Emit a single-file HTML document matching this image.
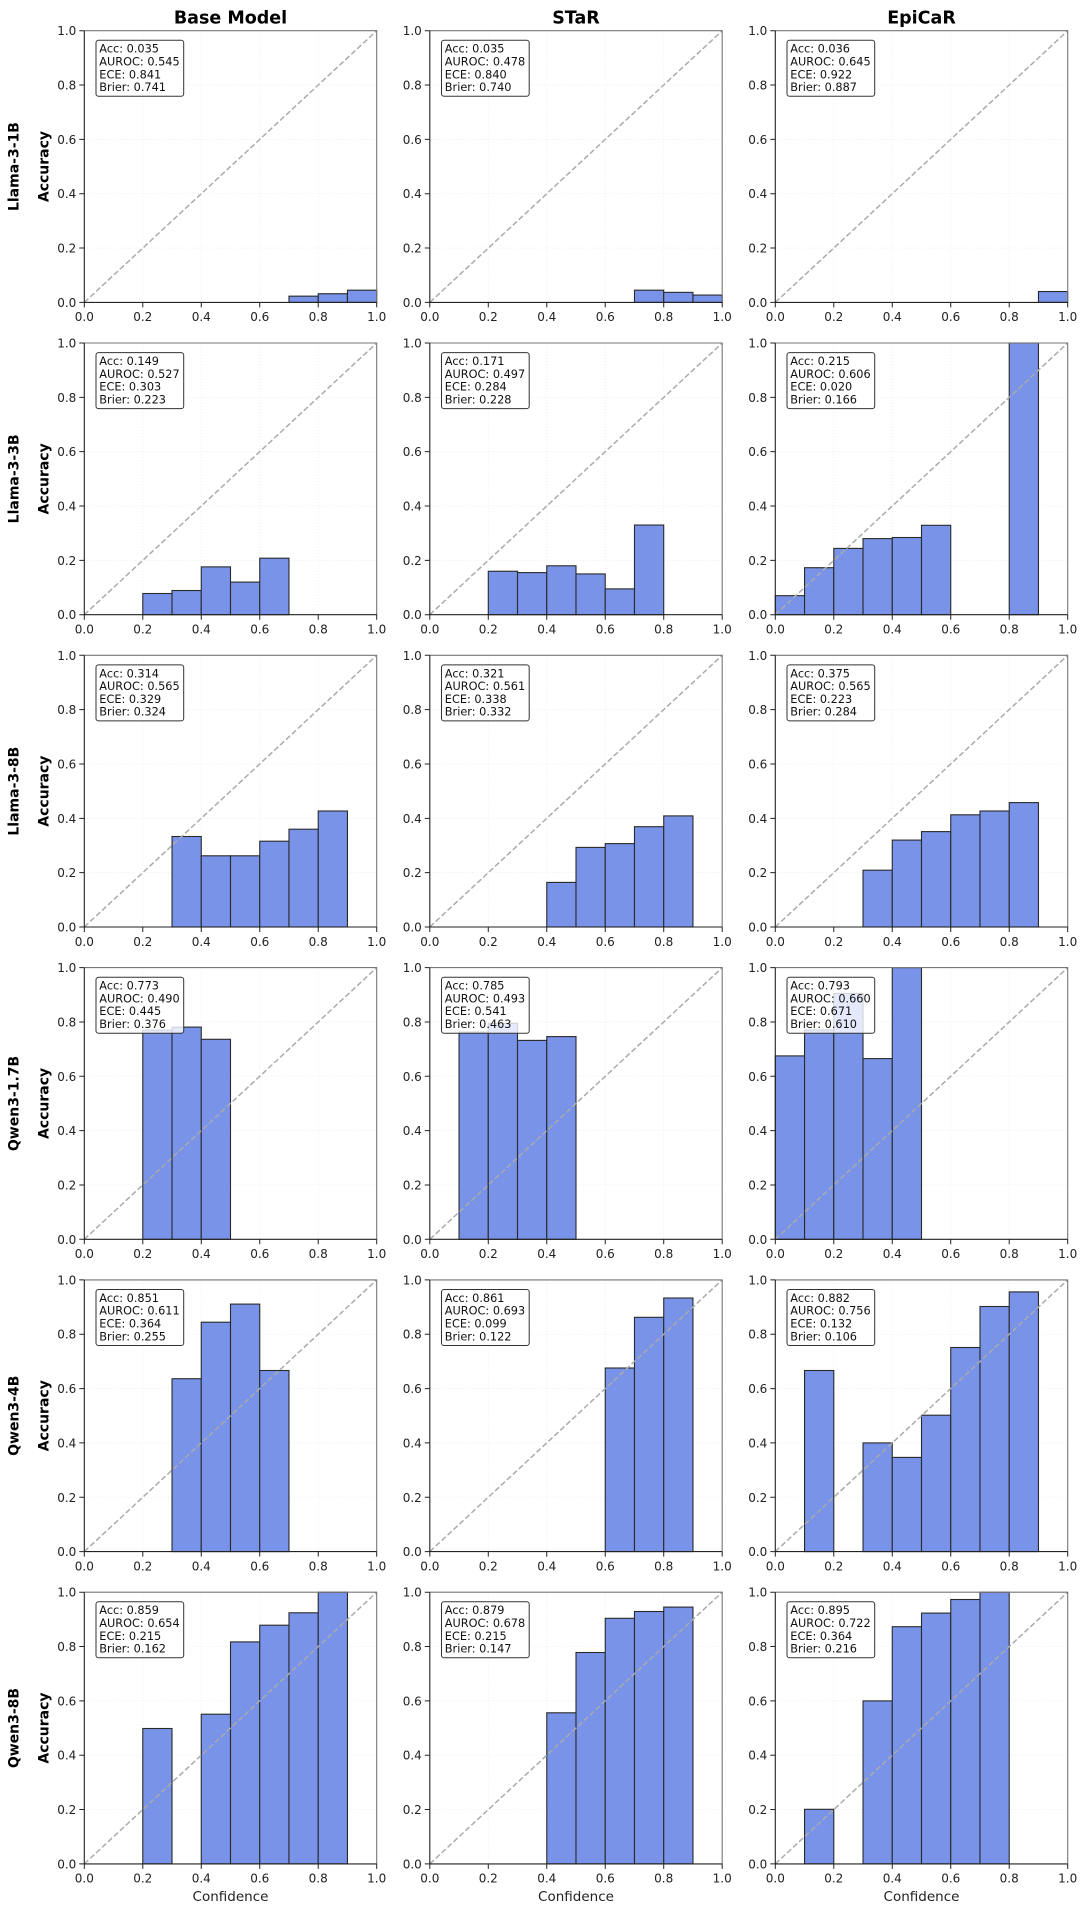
<!DOCTYPE html>
<html><head><meta charset="utf-8"><style>
html,body{margin:0;padding:0;background:#fff;}
svg{display:block;font-family:"DejaVu Sans","Liberation Sans",sans-serif;}
.b{fill:#7893e8;stroke:#2a2a2a;stroke-width:1.1;}
.box{fill:#fff;fill-opacity:0.8;stroke:#333;stroke-width:1;}
.st{font-size:11.3px;fill:#111;}
.yt text{font-size:12px;fill:#222;text-anchor:end;}
.xt text{font-size:12px;fill:#222;text-anchor:middle;}
.ttl{font-size:17.5px;font-weight:bold;text-anchor:middle;fill:#000;}
.lab{font-size:14px;font-weight:bold;text-anchor:middle;fill:#000;}
.xl{font-size:13.5px;text-anchor:middle;fill:#222;}
</style></head><body>
<svg width="1080" height="1905" viewBox="0 0 1080 1905" xmlns="http://www.w3.org/2000/svg">
<defs>
<g id="grid" stroke="#ebebeb" stroke-width="0.8" stroke-dasharray="1,2" fill="none">
<line x1="58.48" y1="0" x2="58.48" y2="271.7"/><line x1="116.96" y1="0" x2="116.96" y2="271.7"/><line x1="175.44" y1="0" x2="175.44" y2="271.7"/><line x1="233.92" y1="0" x2="233.92" y2="271.7"/>
<line x1="0" y1="54.34" x2="292.4" y2="54.34"/><line x1="0" y1="108.68" x2="292.4" y2="108.68"/><line x1="0" y1="163.02" x2="292.4" y2="163.02"/><line x1="0" y1="217.36" x2="292.4" y2="217.36"/>
</g>
<g id="frame" fill="none">
<line x1="0" y1="271.7" x2="292.4" y2="0" stroke="#ababab" stroke-width="1.5" stroke-dasharray="5.5,2.6"/>
<path d="M0,0 H292.4 V271.7" stroke="#777" stroke-width="1.1"/>
<path d="M0,0 V271.7 H292.4" stroke="#222" stroke-width="1.1"/>
<path d="M-5,0H0M-5,54.34H0M-5,108.68H0M-5,163.02H0M-5,217.36H0M-5,271.7H0M0,271.7V276.7M58.48,271.7V276.7M116.96,271.7V276.7M175.44,271.7V276.7M233.92,271.7V276.7M292.4,271.7V276.7" stroke="#222" stroke-width="1"/>
</g>
</defs>
<rect width="1080" height="1905" fill="#fff"/>

<text class="ttl" x="230.5" y="23.3">Base Model</text>
<text class="ttl" x="576" y="23.3">STaR</text>
<text class="ttl" x="921.5" y="23.3">EpiCaR</text>

<text class="lab" transform="translate(18.3,166.55) rotate(-90)">Llama-3-1B</text>
<text class="lab" transform="translate(48.3,166.55) rotate(-90)">Accuracy</text>
<text class="lab" transform="translate(18.3,478.85) rotate(-90)">Llama-3-3B</text>
<text class="lab" transform="translate(48.3,478.85) rotate(-90)">Accuracy</text>
<text class="lab" transform="translate(18.3,791.15) rotate(-90)">Llama-3-8B</text>
<text class="lab" transform="translate(48.3,791.15) rotate(-90)">Accuracy</text>
<text class="lab" transform="translate(18.3,1103.45) rotate(-90)">Qwen3-1.7B</text>
<text class="lab" transform="translate(48.3,1103.45) rotate(-90)">Accuracy</text>
<text class="lab" transform="translate(18.3,1415.75) rotate(-90)">Qwen3-4B</text>
<text class="lab" transform="translate(48.3,1415.75) rotate(-90)">Accuracy</text>
<text class="lab" transform="translate(18.3,1728.05) rotate(-90)">Qwen3-8B</text>
<text class="lab" transform="translate(48.3,1728.05) rotate(-90)">Accuracy</text>

<text class="xl" x="230.5" y="1901">Confidence</text>
<text class="xl" x="576" y="1901">Confidence</text>
<text class="xl" x="921.5" y="1901">Confidence</text>

<!-- ROW 1 -->
<g transform="translate(84.3,30.7)">
<use href="#grid"/>
<rect class="b" x="204.68" y="265.45" width="29.24" height="6.25"/><rect class="b" x="233.92" y="263.01" width="29.24" height="8.69"/><rect class="b" x="263.16" y="259.47" width="29.24" height="12.23"/>
<use href="#frame"/>
<rect class="box" x="11.7" y="9.6" width="87.7" height="56" rx="2.5"/>
<text class="st" y="22"><tspan x="15">Acc: 0.035</tspan><tspan x="15" dy="12.8">AUROC: 0.545</tspan><tspan x="15" dy="12.8">ECE: 0.841</tspan><tspan x="15" dy="12.8">Brier: 0.741</tspan></text>
<g class="yt"><text x="-8" y="4.5">1.0</text><text x="-8" y="58.84">0.8</text><text x="-8" y="113.18">0.6</text><text x="-8" y="167.52">0.4</text><text x="-8" y="221.86">0.2</text><text x="-8" y="276.2">0.0</text></g>
<g class="xt"><text x="0" y="290.5">0.0</text><text x="58.48" y="290.5">0.2</text><text x="116.96" y="290.5">0.4</text><text x="175.44" y="290.5">0.6</text><text x="233.92" y="290.5">0.8</text><text x="292.4" y="290.5">1.0</text></g>
</g>
<g transform="translate(429.8,30.7)">
<use href="#grid"/>
<rect class="b" x="204.68" y="259.47" width="29.24" height="12.23"/><rect class="b" x="233.92" y="261.65" width="29.24" height="10.05"/><rect class="b" x="263.16" y="264.36" width="29.24" height="7.34"/>
<use href="#frame"/>
<rect class="box" x="11.7" y="9.6" width="87.7" height="56" rx="2.5"/>
<text class="st" y="22"><tspan x="15">Acc: 0.035</tspan><tspan x="15" dy="12.8">AUROC: 0.478</tspan><tspan x="15" dy="12.8">ECE: 0.840</tspan><tspan x="15" dy="12.8">Brier: 0.740</tspan></text>
<g class="yt"><text x="-8" y="4.5">1.0</text><text x="-8" y="58.84">0.8</text><text x="-8" y="113.18">0.6</text><text x="-8" y="167.52">0.4</text><text x="-8" y="221.86">0.2</text><text x="-8" y="276.2">0.0</text></g>
<g class="xt"><text x="0" y="290.5">0.0</text><text x="58.48" y="290.5">0.2</text><text x="116.96" y="290.5">0.4</text><text x="175.44" y="290.5">0.6</text><text x="233.92" y="290.5">0.8</text><text x="292.4" y="290.5">1.0</text></g>
</g>
<g transform="translate(775.3,30.7)">
<use href="#grid"/>
<rect class="b" x="263.16" y="260.83" width="29.24" height="10.87"/>
<use href="#frame"/>
<rect class="box" x="11.7" y="9.6" width="87.7" height="56" rx="2.5"/>
<text class="st" y="22"><tspan x="15">Acc: 0.036</tspan><tspan x="15" dy="12.8">AUROC: 0.645</tspan><tspan x="15" dy="12.8">ECE: 0.922</tspan><tspan x="15" dy="12.8">Brier: 0.887</tspan></text>
<g class="yt"><text x="-8" y="4.5">1.0</text><text x="-8" y="58.84">0.8</text><text x="-8" y="113.18">0.6</text><text x="-8" y="167.52">0.4</text><text x="-8" y="221.86">0.2</text><text x="-8" y="276.2">0.0</text></g>
<g class="xt"><text x="0" y="290.5">0.0</text><text x="58.48" y="290.5">0.2</text><text x="116.96" y="290.5">0.4</text><text x="175.44" y="290.5">0.6</text><text x="233.92" y="290.5">0.8</text><text x="292.4" y="290.5">1.0</text></g>
</g>

<!-- ROW 2 -->
<g transform="translate(84.3,343)">
<use href="#grid"/>
<rect class="b" x="58.48" y="250.51" width="29.24" height="21.19"/><rect class="b" x="87.72" y="247.52" width="29.24" height="24.18"/><rect class="b" x="116.96" y="223.88" width="29.24" height="47.82"/><rect class="b" x="146.2" y="239.1" width="29.24" height="32.6"/><rect class="b" x="175.44" y="215.19" width="29.24" height="56.51"/>
<use href="#frame"/>
<rect class="box" x="11.7" y="9.6" width="87.7" height="56" rx="2.5"/>
<text class="st" y="22"><tspan x="15">Acc: 0.149</tspan><tspan x="15" dy="12.8">AUROC: 0.527</tspan><tspan x="15" dy="12.8">ECE: 0.303</tspan><tspan x="15" dy="12.8">Brier: 0.223</tspan></text>
<g class="yt"><text x="-8" y="4.5">1.0</text><text x="-8" y="58.84">0.8</text><text x="-8" y="113.18">0.6</text><text x="-8" y="167.52">0.4</text><text x="-8" y="221.86">0.2</text><text x="-8" y="276.2">0.0</text></g>
<g class="xt"><text x="0" y="290.5">0.0</text><text x="58.48" y="290.5">0.2</text><text x="116.96" y="290.5">0.4</text><text x="175.44" y="290.5">0.6</text><text x="233.92" y="290.5">0.8</text><text x="292.4" y="290.5">1.0</text></g>
</g>
<g transform="translate(429.8,343)">
<use href="#grid"/>
<rect class="b" x="58.48" y="228.23" width="29.24" height="43.47"/><rect class="b" x="87.72" y="229.59" width="29.24" height="42.11"/><rect class="b" x="116.96" y="222.79" width="29.24" height="48.91"/><rect class="b" x="146.2" y="230.94" width="29.24" height="40.76"/><rect class="b" x="175.44" y="245.89" width="29.24" height="25.81"/><rect class="b" x="204.68" y="182.04" width="29.24" height="89.66"/>
<use href="#frame"/>
<rect class="box" x="11.7" y="9.6" width="87.7" height="56" rx="2.5"/>
<text class="st" y="22"><tspan x="15">Acc: 0.171</tspan><tspan x="15" dy="12.8">AUROC: 0.497</tspan><tspan x="15" dy="12.8">ECE: 0.284</tspan><tspan x="15" dy="12.8">Brier: 0.228</tspan></text>
<g class="yt"><text x="-8" y="4.5">1.0</text><text x="-8" y="58.84">0.8</text><text x="-8" y="113.18">0.6</text><text x="-8" y="167.52">0.4</text><text x="-8" y="221.86">0.2</text><text x="-8" y="276.2">0.0</text></g>
<g class="xt"><text x="0" y="290.5">0.0</text><text x="58.48" y="290.5">0.2</text><text x="116.96" y="290.5">0.4</text><text x="175.44" y="290.5">0.6</text><text x="233.92" y="290.5">0.8</text><text x="292.4" y="290.5">1.0</text></g>
</g>
<g transform="translate(775.3,343)">
<use href="#grid"/>
<rect class="b" x="0" y="252.68" width="29.24" height="19.02"/><rect class="b" x="29.24" y="224.7" width="29.24" height="47"/><rect class="b" x="58.48" y="205.4" width="29.24" height="66.3"/><rect class="b" x="87.72" y="195.6" width="29.24" height="76.1"/><rect class="b" x="116.96" y="194.5" width="29.24" height="77.2"/><rect class="b" x="146.2" y="182.3" width="29.24" height="89.4"/><rect class="b" x="233.92" y="0" width="29.24" height="271.7"/>
<use href="#frame"/>
<rect class="box" x="11.7" y="9.6" width="87.7" height="56" rx="2.5"/>
<text class="st" y="22"><tspan x="15">Acc: 0.215</tspan><tspan x="15" dy="12.8">AUROC: 0.606</tspan><tspan x="15" dy="12.8">ECE: 0.020</tspan><tspan x="15" dy="12.8">Brier: 0.166</tspan></text>
<g class="yt"><text x="-8" y="4.5">1.0</text><text x="-8" y="58.84">0.8</text><text x="-8" y="113.18">0.6</text><text x="-8" y="167.52">0.4</text><text x="-8" y="221.86">0.2</text><text x="-8" y="276.2">0.0</text></g>
<g class="xt"><text x="0" y="290.5">0.0</text><text x="58.48" y="290.5">0.2</text><text x="116.96" y="290.5">0.4</text><text x="175.44" y="290.5">0.6</text><text x="233.92" y="290.5">0.8</text><text x="292.4" y="290.5">1.0</text></g>
</g>

<!-- ROW 3 -->
<g transform="translate(84.3,655.3)">
<use href="#grid"/>
<rect class="b" x="87.72" y="181.2" width="29.24" height="90.5"/><rect class="b" x="116.96" y="200.5" width="29.24" height="71.2"/><rect class="b" x="146.2" y="200.5" width="29.24" height="71.2"/><rect class="b" x="175.44" y="185.9" width="29.24" height="85.8"/><rect class="b" x="204.68" y="173.9" width="29.24" height="97.8"/><rect class="b" x="233.92" y="155.7" width="29.24" height="116"/>
<use href="#frame"/>
<rect class="box" x="11.7" y="9.6" width="87.7" height="56" rx="2.5"/>
<text class="st" y="22"><tspan x="15">Acc: 0.314</tspan><tspan x="15" dy="12.8">AUROC: 0.565</tspan><tspan x="15" dy="12.8">ECE: 0.329</tspan><tspan x="15" dy="12.8">Brier: 0.324</tspan></text>
<g class="yt"><text x="-8" y="4.5">1.0</text><text x="-8" y="58.84">0.8</text><text x="-8" y="113.18">0.6</text><text x="-8" y="167.52">0.4</text><text x="-8" y="221.86">0.2</text><text x="-8" y="276.2">0.0</text></g>
<g class="xt"><text x="0" y="290.5">0.0</text><text x="58.48" y="290.5">0.2</text><text x="116.96" y="290.5">0.4</text><text x="175.44" y="290.5">0.6</text><text x="233.92" y="290.5">0.8</text><text x="292.4" y="290.5">1.0</text></g>
</g>
<g transform="translate(429.8,655.3)">
<use href="#grid"/>
<rect class="b" x="116.96" y="227.1" width="29.24" height="44.6"/><rect class="b" x="146.2" y="192.1" width="29.24" height="79.6"/><rect class="b" x="175.44" y="188.3" width="29.24" height="83.4"/><rect class="b" x="204.68" y="171.4" width="29.24" height="100.3"/><rect class="b" x="233.92" y="160.6" width="29.24" height="111.1"/>
<use href="#frame"/>
<rect class="box" x="11.7" y="9.6" width="87.7" height="56" rx="2.5"/>
<text class="st" y="22"><tspan x="15">Acc: 0.321</tspan><tspan x="15" dy="12.8">AUROC: 0.561</tspan><tspan x="15" dy="12.8">ECE: 0.338</tspan><tspan x="15" dy="12.8">Brier: 0.332</tspan></text>
<g class="yt"><text x="-8" y="4.5">1.0</text><text x="-8" y="58.84">0.8</text><text x="-8" y="113.18">0.6</text><text x="-8" y="167.52">0.4</text><text x="-8" y="221.86">0.2</text><text x="-8" y="276.2">0.0</text></g>
<g class="xt"><text x="0" y="290.5">0.0</text><text x="58.48" y="290.5">0.2</text><text x="116.96" y="290.5">0.4</text><text x="175.44" y="290.5">0.6</text><text x="233.92" y="290.5">0.8</text><text x="292.4" y="290.5">1.0</text></g>
</g>
<g transform="translate(775.3,655.3)">
<use href="#grid"/>
<rect class="b" x="87.72" y="214.9" width="29.24" height="56.8"/><rect class="b" x="116.96" y="184.8" width="29.24" height="86.9"/><rect class="b" x="146.2" y="176.3" width="29.24" height="95.4"/><rect class="b" x="175.44" y="159.5" width="29.24" height="112.2"/><rect class="b" x="204.68" y="155.7" width="29.24" height="116"/><rect class="b" x="233.92" y="147.3" width="29.24" height="124.4"/>
<use href="#frame"/>
<rect class="box" x="11.7" y="9.6" width="87.7" height="56" rx="2.5"/>
<text class="st" y="22"><tspan x="15">Acc: 0.375</tspan><tspan x="15" dy="12.8">AUROC: 0.565</tspan><tspan x="15" dy="12.8">ECE: 0.223</tspan><tspan x="15" dy="12.8">Brier: 0.284</tspan></text>
<g class="yt"><text x="-8" y="4.5">1.0</text><text x="-8" y="58.84">0.8</text><text x="-8" y="113.18">0.6</text><text x="-8" y="167.52">0.4</text><text x="-8" y="221.86">0.2</text><text x="-8" y="276.2">0.0</text></g>
<g class="xt"><text x="0" y="290.5">0.0</text><text x="58.48" y="290.5">0.2</text><text x="116.96" y="290.5">0.4</text><text x="175.44" y="290.5">0.6</text><text x="233.92" y="290.5">0.8</text><text x="292.4" y="290.5">1.0</text></g>
</g>

<!-- ROW 4 -->
<g transform="translate(84.3,967.6)">
<use href="#grid"/>
<rect class="b" x="58.48" y="62.5" width="29.24" height="209.2"/><rect class="b" x="87.72" y="59.5" width="29.24" height="212.2"/><rect class="b" x="116.96" y="71.7" width="29.24" height="200"/>
<use href="#frame"/>
<rect class="box" x="11.7" y="9.6" width="87.7" height="56" rx="2.5"/>
<text class="st" y="22"><tspan x="15">Acc: 0.773</tspan><tspan x="15" dy="12.8">AUROC: 0.490</tspan><tspan x="15" dy="12.8">ECE: 0.445</tspan><tspan x="15" dy="12.8">Brier: 0.376</tspan></text>
<g class="yt"><text x="-8" y="4.5">1.0</text><text x="-8" y="58.84">0.8</text><text x="-8" y="113.18">0.6</text><text x="-8" y="167.52">0.4</text><text x="-8" y="221.86">0.2</text><text x="-8" y="276.2">0.0</text></g>
<g class="xt"><text x="0" y="290.5">0.0</text><text x="58.48" y="290.5">0.2</text><text x="116.96" y="290.5">0.4</text><text x="175.44" y="290.5">0.6</text><text x="233.92" y="290.5">0.8</text><text x="292.4" y="290.5">1.0</text></g>
</g>
<g transform="translate(429.8,967.6)">
<use href="#grid"/>
<rect class="b" x="29.24" y="64.4" width="29.24" height="207.3"/><rect class="b" x="58.48" y="55.7" width="29.24" height="216"/><rect class="b" x="87.72" y="72.8" width="29.24" height="198.9"/><rect class="b" x="116.96" y="69" width="29.24" height="202.7"/>
<use href="#frame"/>
<rect class="box" x="11.7" y="9.6" width="87.7" height="56" rx="2.5"/>
<text class="st" y="22"><tspan x="15">Acc: 0.785</tspan><tspan x="15" dy="12.8">AUROC: 0.493</tspan><tspan x="15" dy="12.8">ECE: 0.541</tspan><tspan x="15" dy="12.8">Brier: 0.463</tspan></text>
<g class="yt"><text x="-8" y="4.5">1.0</text><text x="-8" y="58.84">0.8</text><text x="-8" y="113.18">0.6</text><text x="-8" y="167.52">0.4</text><text x="-8" y="221.86">0.2</text><text x="-8" y="276.2">0.0</text></g>
<g class="xt"><text x="0" y="290.5">0.0</text><text x="58.48" y="290.5">0.2</text><text x="116.96" y="290.5">0.4</text><text x="175.44" y="290.5">0.6</text><text x="233.92" y="290.5">0.8</text><text x="292.4" y="290.5">1.0</text></g>
</g>
<g transform="translate(775.3,967.6)">
<use href="#grid"/>
<rect class="b" x="0" y="88.3" width="29.24" height="183.4"/><rect class="b" x="29.24" y="62.5" width="29.24" height="209.2"/><rect class="b" x="58.48" y="25.8" width="29.24" height="245.9"/><rect class="b" x="87.72" y="91" width="29.24" height="180.7"/><rect class="b" x="116.96" y="0" width="29.24" height="271.7"/>
<use href="#frame"/>
<rect class="box" x="11.7" y="9.6" width="87.7" height="56" rx="2.5"/>
<text class="st" y="22"><tspan x="15">Acc: 0.793</tspan><tspan x="15" dy="12.8">AUROC: 0.660</tspan><tspan x="15" dy="12.8">ECE: 0.671</tspan><tspan x="15" dy="12.8">Brier: 0.610</tspan></text>
<g class="yt"><text x="-8" y="4.5">1.0</text><text x="-8" y="58.84">0.8</text><text x="-8" y="113.18">0.6</text><text x="-8" y="167.52">0.4</text><text x="-8" y="221.86">0.2</text><text x="-8" y="276.2">0.0</text></g>
<g class="xt"><text x="0" y="290.5">0.0</text><text x="58.48" y="290.5">0.2</text><text x="116.96" y="290.5">0.4</text><text x="175.44" y="290.5">0.6</text><text x="233.92" y="290.5">0.8</text><text x="292.4" y="290.5">1.0</text></g>
</g>

<!-- ROW 5 -->
<g transform="translate(84.3,1279.9)">
<use href="#grid"/>
<rect class="b" x="87.72" y="98.8" width="29.24" height="172.9"/><rect class="b" x="116.96" y="42.3" width="29.24" height="229.4"/><rect class="b" x="146.2" y="24.2" width="29.24" height="247.5"/><rect class="b" x="175.44" y="90.6" width="29.24" height="181.1"/>
<use href="#frame"/>
<rect class="box" x="11.7" y="9.6" width="87.7" height="56" rx="2.5"/>
<text class="st" y="22"><tspan x="15">Acc: 0.851</tspan><tspan x="15" dy="12.8">AUROC: 0.611</tspan><tspan x="15" dy="12.8">ECE: 0.364</tspan><tspan x="15" dy="12.8">Brier: 0.255</tspan></text>
<g class="yt"><text x="-8" y="4.5">1.0</text><text x="-8" y="58.84">0.8</text><text x="-8" y="113.18">0.6</text><text x="-8" y="167.52">0.4</text><text x="-8" y="221.86">0.2</text><text x="-8" y="276.2">0.0</text></g>
<g class="xt"><text x="0" y="290.5">0.0</text><text x="58.48" y="290.5">0.2</text><text x="116.96" y="290.5">0.4</text><text x="175.44" y="290.5">0.6</text><text x="233.92" y="290.5">0.8</text><text x="292.4" y="290.5">1.0</text></g>
</g>
<g transform="translate(429.8,1279.9)">
<use href="#grid"/>
<rect class="b" x="175.44" y="88.1" width="29.24" height="183.6"/><rect class="b" x="204.68" y="37.4" width="29.24" height="234.3"/><rect class="b" x="233.92" y="18.1" width="29.24" height="253.6"/>
<use href="#frame"/>
<rect class="box" x="11.7" y="9.6" width="87.7" height="56" rx="2.5"/>
<text class="st" y="22"><tspan x="15">Acc: 0.861</tspan><tspan x="15" dy="12.8">AUROC: 0.693</tspan><tspan x="15" dy="12.8">ECE: 0.099</tspan><tspan x="15" dy="12.8">Brier: 0.122</tspan></text>
<g class="yt"><text x="-8" y="4.5">1.0</text><text x="-8" y="58.84">0.8</text><text x="-8" y="113.18">0.6</text><text x="-8" y="167.52">0.4</text><text x="-8" y="221.86">0.2</text><text x="-8" y="276.2">0.0</text></g>
<g class="xt"><text x="0" y="290.5">0.0</text><text x="58.48" y="290.5">0.2</text><text x="116.96" y="290.5">0.4</text><text x="175.44" y="290.5">0.6</text><text x="233.92" y="290.5">0.8</text><text x="292.4" y="290.5">1.0</text></g>
</g>
<g transform="translate(775.3,1279.9)">
<use href="#grid"/>
<rect class="b" x="29.24" y="90.6" width="29.24" height="181.1"/><rect class="b" x="87.72" y="163" width="29.24" height="108.7"/><rect class="b" x="116.96" y="177.5" width="29.24" height="94.2"/><rect class="b" x="146.2" y="135.3" width="29.24" height="136.4"/><rect class="b" x="175.44" y="67.6" width="29.24" height="204.1"/><rect class="b" x="204.68" y="26.6" width="29.24" height="245.1"/><rect class="b" x="233.92" y="12" width="29.24" height="259.7"/>
<use href="#frame"/>
<rect class="box" x="11.7" y="9.6" width="87.7" height="56" rx="2.5"/>
<text class="st" y="22"><tspan x="15">Acc: 0.882</tspan><tspan x="15" dy="12.8">AUROC: 0.756</tspan><tspan x="15" dy="12.8">ECE: 0.132</tspan><tspan x="15" dy="12.8">Brier: 0.106</tspan></text>
<g class="yt"><text x="-8" y="4.5">1.0</text><text x="-8" y="58.84">0.8</text><text x="-8" y="113.18">0.6</text><text x="-8" y="167.52">0.4</text><text x="-8" y="221.86">0.2</text><text x="-8" y="276.2">0.0</text></g>
<g class="xt"><text x="0" y="290.5">0.0</text><text x="58.48" y="290.5">0.2</text><text x="116.96" y="290.5">0.4</text><text x="175.44" y="290.5">0.6</text><text x="233.92" y="290.5">0.8</text><text x="292.4" y="290.5">1.0</text></g>
</g>

<!-- ROW 6 -->
<g transform="translate(84.3,1592.2)">
<use href="#grid"/>
<rect class="b" x="58.48" y="136.3" width="29.24" height="135.4"/><rect class="b" x="116.96" y="122" width="29.24" height="149.7"/><rect class="b" x="146.2" y="49.7" width="29.24" height="222"/><rect class="b" x="175.44" y="33" width="29.24" height="238.7"/><rect class="b" x="204.68" y="20.6" width="29.24" height="251.1"/><rect class="b" x="233.92" y="0" width="29.24" height="271.7"/>
<use href="#frame"/>
<rect class="box" x="11.7" y="9.6" width="87.7" height="56" rx="2.5"/>
<text class="st" y="22"><tspan x="15">Acc: 0.859</tspan><tspan x="15" dy="12.8">AUROC: 0.654</tspan><tspan x="15" dy="12.8">ECE: 0.215</tspan><tspan x="15" dy="12.8">Brier: 0.162</tspan></text>
<g class="yt"><text x="-8" y="4.5">1.0</text><text x="-8" y="58.84">0.8</text><text x="-8" y="113.18">0.6</text><text x="-8" y="167.52">0.4</text><text x="-8" y="221.86">0.2</text><text x="-8" y="276.2">0.0</text></g>
<g class="xt"><text x="0" y="290.5">0.0</text><text x="58.48" y="290.5">0.2</text><text x="116.96" y="290.5">0.4</text><text x="175.44" y="290.5">0.6</text><text x="233.92" y="290.5">0.8</text><text x="292.4" y="290.5">1.0</text></g>
</g>
<g transform="translate(429.8,1592.2)">
<use href="#grid"/>
<rect class="b" x="116.96" y="120.6" width="29.24" height="151.1"/><rect class="b" x="146.2" y="60.3" width="29.24" height="211.4"/><rect class="b" x="175.44" y="26.1" width="29.24" height="245.6"/><rect class="b" x="204.68" y="19.3" width="29.24" height="252.4"/><rect class="b" x="233.92" y="14.9" width="29.24" height="256.8"/>
<use href="#frame"/>
<rect class="box" x="11.7" y="9.6" width="87.7" height="56" rx="2.5"/>
<text class="st" y="22"><tspan x="15">Acc: 0.879</tspan><tspan x="15" dy="12.8">AUROC: 0.678</tspan><tspan x="15" dy="12.8">ECE: 0.215</tspan><tspan x="15" dy="12.8">Brier: 0.147</tspan></text>
<g class="yt"><text x="-8" y="4.5">1.0</text><text x="-8" y="58.84">0.8</text><text x="-8" y="113.18">0.6</text><text x="-8" y="167.52">0.4</text><text x="-8" y="221.86">0.2</text><text x="-8" y="276.2">0.0</text></g>
<g class="xt"><text x="0" y="290.5">0.0</text><text x="58.48" y="290.5">0.2</text><text x="116.96" y="290.5">0.4</text><text x="175.44" y="290.5">0.6</text><text x="233.92" y="290.5">0.8</text><text x="292.4" y="290.5">1.0</text></g>
</g>
<g transform="translate(775.3,1592.2)">
<use href="#grid"/>
<rect class="b" x="29.24" y="217.1" width="29.24" height="54.6"/><rect class="b" x="87.72" y="108.7" width="29.24" height="163"/><rect class="b" x="116.96" y="34.5" width="29.24" height="237.2"/><rect class="b" x="146.2" y="20.9" width="29.24" height="250.8"/><rect class="b" x="175.44" y="7.3" width="29.24" height="264.4"/><rect class="b" x="204.68" y="0" width="29.24" height="271.7"/>
<use href="#frame"/>
<rect class="box" x="11.7" y="9.6" width="87.7" height="56" rx="2.5"/>
<text class="st" y="22"><tspan x="15">Acc: 0.895</tspan><tspan x="15" dy="12.8">AUROC: 0.722</tspan><tspan x="15" dy="12.8">ECE: 0.364</tspan><tspan x="15" dy="12.8">Brier: 0.216</tspan></text>
<g class="yt"><text x="-8" y="4.5">1.0</text><text x="-8" y="58.84">0.8</text><text x="-8" y="113.18">0.6</text><text x="-8" y="167.52">0.4</text><text x="-8" y="221.86">0.2</text><text x="-8" y="276.2">0.0</text></g>
<g class="xt"><text x="0" y="290.5">0.0</text><text x="58.48" y="290.5">0.2</text><text x="116.96" y="290.5">0.4</text><text x="175.44" y="290.5">0.6</text><text x="233.92" y="290.5">0.8</text><text x="292.4" y="290.5">1.0</text></g>
</g>
</svg>
</body></html>
